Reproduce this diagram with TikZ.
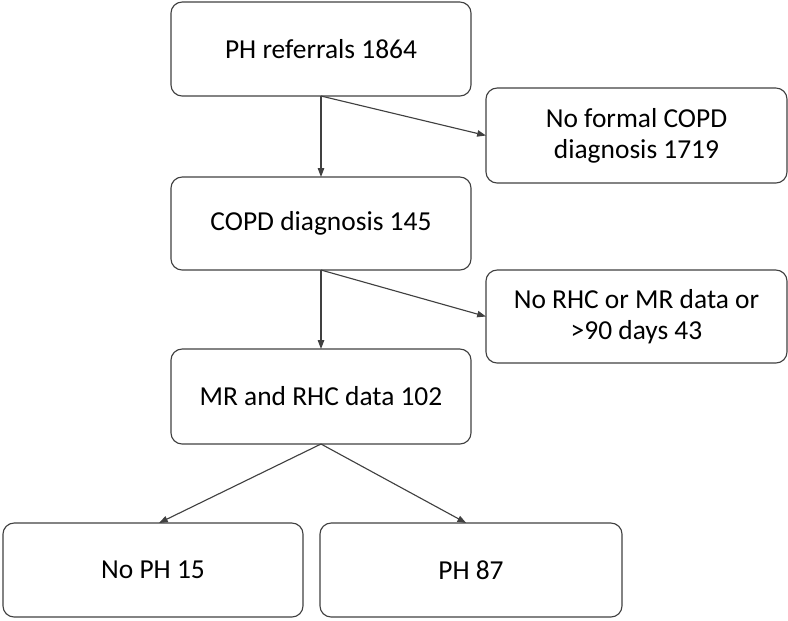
\documentclass[tikz,border=0pt]{standalone}
\usepackage{fontspec}
\setmainfont{Carlito}
\usetikzlibrary{arrows.meta}
\begin{document}
\begin{tikzpicture}[x=0.025cm,y=-0.025cm,inner sep=0pt,outer sep=0pt,line width=0.8pt,
stepbox/.style={draw=black!75,rectangle,rounded corners=0.28cm,align=center,font=\fontsize{19.5}{22}\selectfont},
wide/.style={minimum width=7.5cm,minimum height=2.35cm},
flow/.style={draw=black!75,-{Triangle[length=2.2mm,width=1.6mm]}}]
\useasboundingbox (0,0) rectangle (788,620);
\draw (321,49) node[stepbox,wide] (ref) {PH referrals 1864};
\draw (636.5,135.5) node[stepbox,wide,minimum width=7.525cm,minimum height=2.375cm] (nocopd) {No formal COPD\\diagnosis 1719};
\draw (321,223.5) node[stepbox,wide,minimum height=2.325cm] (copd) {COPD diagnosis 145};
\draw (636.5,316.5) node[stepbox,wide,minimum width=7.525cm,minimum height=2.325cm] (nodata) {No RHC or MR data or\\>90 days 43};
\draw (321,396.5) node[stepbox,wide,minimum height=2.375cm] (data) {MR and RHC data 102};
\draw (153,570) node[stepbox,wide] (noph) {No PH 15};
\draw (471,570) node[stepbox,wide,minimum width=7.55cm] (ph) {PH 87};
\draw[flow] (ref.south) -- (copd.north);
\draw[flow] (ref.south) -- (nocopd.west);
\draw[flow] (copd.south) -- (data.north);
\draw[flow] (copd.south) -- (nodata.west);
\draw[flow] (data.south) -- ([xshift=0.15cm]noph.north);
\draw[flow] (data.south) -- ([xshift=-0.12cm]ph.north);
\end{tikzpicture}
\end{document}
